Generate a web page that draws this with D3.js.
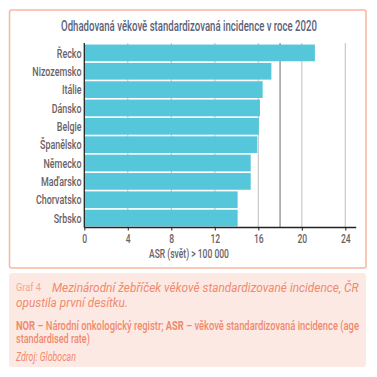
<!DOCTYPE html>
<meta charset="utf-8">
<style>
body { margin: 0; background: #fff; }
svg { display: block; }
text { font-family: Roboto, "Liberation Sans", sans-serif; }
</style>
<svg width="377" height="377"></svg>
<script src="https://cdn.jsdelivr.net/npm/d3@7"></script>
<script>

// data
var countries = ["Řecko", "Nizozemsko", "Itálie", "Dánsko", "Belgie", "Španělsko", "Německo", "Maďarsko", "Chorvatsko", "Srbsko"];
var asr = [21.2, 17.2, 16.4, 16.15, 16.05, 15.9, 15.3, 15.3, 14.1, 14.1];
var xTicks = [0, 4, 8, 12, 16, 20, 24];
var refValue = 18;

var svg = d3.select("svg");
var k = 1; // horizontal squeeze to mimic the condensed face

// place a text at (x,y) and squeeze it horizontally
function condense(sel, x, y) {
  sel.attr("transform", "translate(" + x + "," + y + ") scale(" + k + ",1)");
}
// squeeze a text so it spans w pixels from (x,y)
function fitW(sel, x, y, w) {
  var s = w / sel.node().getComputedTextLength();
  sel.attr("transform", "translate(" + x + "," + y + ") scale(" + s + ",1)");
  return sel;
}

// outer chart frame
svg.append("rect")
    .attr("x", 9.5).attr("y", 10)
    .attr("width", 356.5).attr("height", 258)
    .attr("rx", 2)
    .attr("fill", "#fff")
    .attr("stroke", "#f8b6a0")
    .attr("stroke-width", 1.5);

var title = svg.append("text")
    .attr("text-anchor", "middle")
    .attr("font-size", 14)
    .attr("font-weight", 500)
    .attr("fill", "#5b6177")
    .text("Odhadovaná věkově standardizovaná incidence v roce 2020");
k = 256 / title.node().getComputedTextLength();
condense(title, 189, 31);

var x = d3.scaleLinear().domain([0, 25]).range([84.3, 356.2]);
var y = d3.scaleBand().domain(countries).range([44, 227]).paddingInner(0.09).paddingOuter(0.03);

// grid
svg.append("g").selectAll("line")
    .data(xTicks.filter(function(d) { return d > 0; }))
  .enter().append("line")
    .attr("x1", function(d) { return x(d); })
    .attr("x2", function(d) { return x(d); })
    .attr("y1", 43).attr("y2", 227)
    .attr("stroke", "#c8c8c8")
    .attr("stroke-width", 1.2);

svg.append("line")
    .attr("x1", x(refValue)).attr("x2", x(refValue))
    .attr("y1", 43).attr("y2", 227)
    .attr("stroke", "#8e8e8e")
    .attr("stroke-width", 1.3);

// bars
svg.append("g").selectAll("rect")
    .data(countries)
  .enter().append("rect")
    .attr("x", x(0))
    .attr("y", function(d) { return y(d); })
    .attr("width", function(d, i) { return x(asr[i]) - x(0); })
    .attr("height", y.bandwidth())
    .attr("fill", "#56c6da");

// y axis line + labels
svg.append("line")
    .attr("x1", x(0)).attr("x2", x(0))
    .attr("y1", 43).attr("y2", 227.5)
    .attr("stroke", "#222").attr("stroke-width", 1.3);

svg.append("g").selectAll("text")
    .data(countries)
  .enter().append("text")
    .attr("text-anchor", "end")
    .attr("font-size", 13)
    .attr("font-weight", 500)
    .attr("fill", "#6a6365")
    .text(function(d) { return d; })
    .each(function(d) { condense(d3.select(this), 81.5, y(d) + y.bandwidth() / 2 + 4.6); });

// x axis
var xAxis = d3.axisBottom(x).tickValues(xTicks).tickSize(3).tickPadding(4);
var gx = svg.append("g")
    .attr("transform", "translate(0,227.5)")
    .call(xAxis);
gx.select(".domain").attr("stroke", "#222").attr("stroke-width", 1.3).attr("d", "M" + x(0) + ",0H" + x(25));
gx.selectAll(".tick line").attr("stroke", "#222");
gx.selectAll(".tick text")
    .attr("font-family", null)
    .attr("font-size", 12.5)
    .attr("font-weight", 500)
    .attr("fill", "#6a6365")
    .attr("transform", "scale(" + k + ",1)");

fitW(svg.append("text")
    .attr("font-size", 12)
    .attr("font-weight", 500)
    .attr("fill", "#6a6365")
    .text("ASR (svět) > 100 000"), 149, 257.5, 80);

// caption box
svg.append("rect")
    .attr("x", 9).attr("y", 273)
    .attr("width", 357).attr("height", 94)
    .attr("rx", 3)
    .attr("fill", "#fde9e3");

var salmon = "#f08a6e";

fitW(svg.append("text")
    .attr("font-size", 11)
    .attr("fill", "#f5a58d")
    .text("Graf 4"), 16, 291, 25);

fitW(svg.append("text")
    .attr("font-size", 13.5)
    .attr("font-style", "italic")
    .attr("fill", salmon)
    .text("Mezinárodní žebříček věkově standardizované incidence, ČR"), 52, 291.5, 307);

fitW(svg.append("text")
    .attr("font-size", 13.5)
    .attr("font-style", "italic")
    .attr("fill", salmon)
    .text("opustila první desítku."), 16, 307, 112);

var nor = svg.append("text")
    .attr("fill", salmon)
    .attr("font-weight", 500)
    .attr("font-size", 13);
nor.append("tspan").attr("font-weight", "bold").text("NOR");
nor.append("tspan").text(" – Národní onkologický registr; ");
nor.append("tspan").attr("font-weight", "bold").text("ASR");
nor.append("tspan").text(" – věkově standardizovaná incidence (age");
fitW(nor, 16, 329.5, 343);

fitW(svg.append("text")
    .attr("fill", salmon)
    .attr("font-weight", 500)
    .attr("font-size", 13)
    .text("standardised rate)"), 16, 343, 74);

fitW(svg.append("text")
    .attr("fill", salmon)
    .attr("font-size", 12.5)
    .attr("font-style", "italic")
    .text("Zdroj: Globocan"), 16, 360.5, 60);

</script>
